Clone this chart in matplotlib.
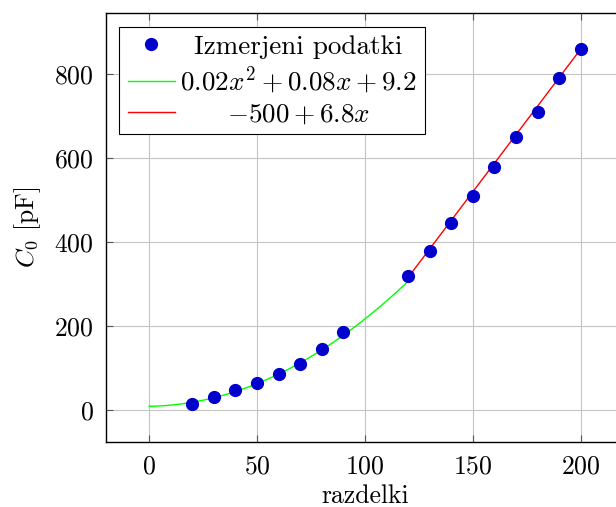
import matplotlib.pyplot as plt
import numpy as np

plt.rcParams['font.family'] = 'serif'
plt.rcParams['font.serif'] = ['cmr10', 'DejaVu Serif']
plt.rcParams['mathtext.fontset'] = 'cm'
plt.rcParams['axes.formatter.use_mathtext'] = True
plt.rcParams['font.size'] = 18.5

# measured points
razdelki = [20, 30, 40, 50, 60, 70, 80, 90, 120, 130, 140, 150, 160, 170, 180, 190, 200]
c0 = [15, 31, 49, 64, 86, 109, 145, 185, 320, 380, 445, 510, 580, 650, 710, 790, 860]

# fit coefficients (from the legend)
quad_coef = [0.02, 0.08, 9.2]
quad_range = [0, 120]
lin_coef = [6.8, -500]
lin_range = [120, 200]

labels = ['Izmerjeni podatki', r'$0.02x^2+0.08x+9.2$', r'$-500+6.8x$']

fig = plt.figure(figsize=(6.16, 5.07), dpi=100)
ax = fig.add_axes([0.172, 0.128, 0.841, 0.846])

xq = np.linspace(quad_range[0], quad_range[1], 200)
xl = np.linspace(lin_range[0], lin_range[1], 50)
h1, = ax.plot(razdelki, c0, 'o', color='#0000cc', markersize=8.5, zorder=3)
h2, = ax.plot(xq, np.polyval(quad_coef, xq), color='#00ff00', lw=1, zorder=2)
h3, = ax.plot(xl, np.polyval(lin_coef, xl), color='#ff0000', lw=1, zorder=2)

ax.set_xlim(-20, 220)
ax.set_ylim(-76, 945)
ax.set_xticks([0, 50, 100, 150, 200])
ax.set_yticks([0, 200, 400, 600, 800])
ax.grid(True, color='#c4c4c4', lw=0.8)
ax.set_axisbelow(True)
ax.tick_params(direction='in', top=True, right=True, length=5, width=0.8,
               color='#555555', pad=9)
for s in ax.spines.values():
    s.set_linewidth(1.0)
ax.set_xlabel('razdelki', labelpad=4)
ax.set_ylabel(r'$C_0$ [pF]', labelpad=8)

leg = ax.legend([h1, h2, h3], labels, loc='upper left', fancybox=False,
                edgecolor='black', framealpha=1, borderaxespad=0.5,
                handlelength=1.75, handletextpad=0.2, labelspacing=0.22,
                borderpad=0.3, numpoints=1, fontsize=19.5)
leg.get_frame().set_linewidth(0.8)

# center legend entries like pgfplots
fig.canvas.draw()
texts = leg.get_texts()
widths = [t.get_window_extent().width for t in texts]
maxw = max(widths)
for t, w in zip(texts, widths):
    t.set_x((maxw - w) / 2)

fig.savefig('out.png', dpi=100)
